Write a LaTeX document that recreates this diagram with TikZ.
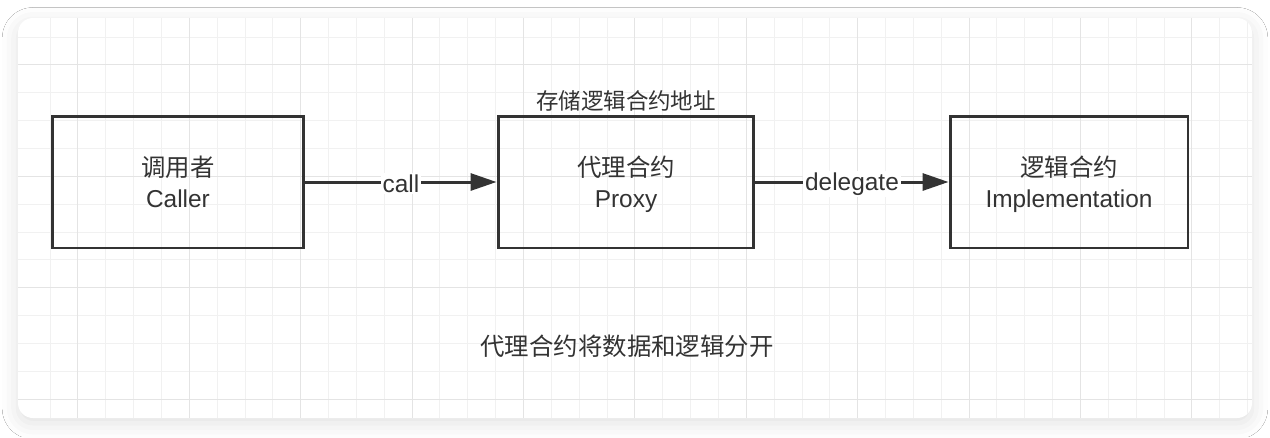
\documentclass[tikz,border=0pt]{standalone}
\usepackage{fontspec}
\setmainfont{Liberation Sans}
\newfontfamily\cjk{Noto Sans CJK SC}
\usepackage{tikz}
\usetikzlibrary{arrows.meta, shadows.blur}
\definecolor{ink}{HTML}{333333}
\definecolor{gridminor}{HTML}{F1F1F1}
\definecolor{gridmajor}{HTML}{E4E4E4}

\begin{document}
\begin{tikzpicture}[x=0.02cm, y=-0.02cm,
        box/.style={draw=ink, line width=1.7pt, minimum height=2.64cm, align=center,
            text=ink, font=\fontsize{13.9}{17.4}\selectfont},
        lbl/.style={fill=white, inner sep=1pt, text=ink, font=\fontsize{13.9}{17}\selectfont},
        note/.style={text=ink, inner sep=0pt},
        link/.style={-{Triangle[length=0.52cm, width=0.34cm]}, draw=ink, line width=1.7pt}]
        \useasboundingbox (0, 0) rectangle (1270, 437);
        \fill[white] (0, 0) rectangle (1270, 437);

        % card with grid
        \fill[white, rounded corners=0.3cm,
            blur shadow={shadow xshift=0pt, shadow yshift=-3pt, shadow blur radius=9pt, shadow opacity=12}]
            (18, 18) rectangle (1252, 418);
        \begin{scope}
            \clip[rounded corners=0.3cm] (18, 18) rectangle (1252, 418);
            \foreach \i in {0,...,43}
                \draw[gridminor, line width=0.5pt] (50+\i*27.85, 18) -- (50+\i*27.85, 418);
            \foreach \j in {0,...,13}
                \draw[gridminor, line width=0.5pt] (18, 37+\j*27.85) -- (1252, 37+\j*27.85);
            \foreach \i in {1,5,...,41}
                \draw[gridmajor, line width=0.5pt] (50+\i*27.85, 18) -- (50+\i*27.85, 418);
            \foreach \j in {1,5,9,13}
                \draw[gridmajor, line width=0.5pt] (18, 37+\j*27.85) -- (1252, 37+\j*27.85);
        \end{scope}

        % boxes; text sits a little below the centre
        \node[box, minimum width=5.04cm] at (178, 182)  (caller) {\raisebox{-0.08cm}[\height][\depth]{\parbox{4.5cm}{\centering{\cjk 调用者}\strut\\Caller\strut}}};
        \node[box, minimum width=5.12cm] at (626, 182)  (proxy) {\raisebox{-0.08cm}[\height][\depth]{\parbox{4.5cm}{\centering{\cjk 代理合约}\strut\\Proxy\strut}}};
        \node[box, minimum width=4.76cm] at (1069, 182) (impl) {\raisebox{-0.08cm}[\height][\depth]{\parbox{4.5cm}{\centering{\cjk 逻辑合约}\strut\\Implementation\strut}}};

        \node[note, font=\cjk\fontsize{12.8}{15}\selectfont] at (626, 101) (storage) {存储逻辑合约地址};
        \node[note, font=\cjk\fontsize{13.9}{17}\selectfont] at (627, 346) (summary) {代理合约将数据和逻辑分开};

        \draw [link] (caller) -- node[lbl, yshift=-1pt] {call} (proxy);
        \draw [link] (proxy) -- node[lbl, yshift=-1pt] {delegate} (impl);
    \end{tikzpicture}
\end{document}
